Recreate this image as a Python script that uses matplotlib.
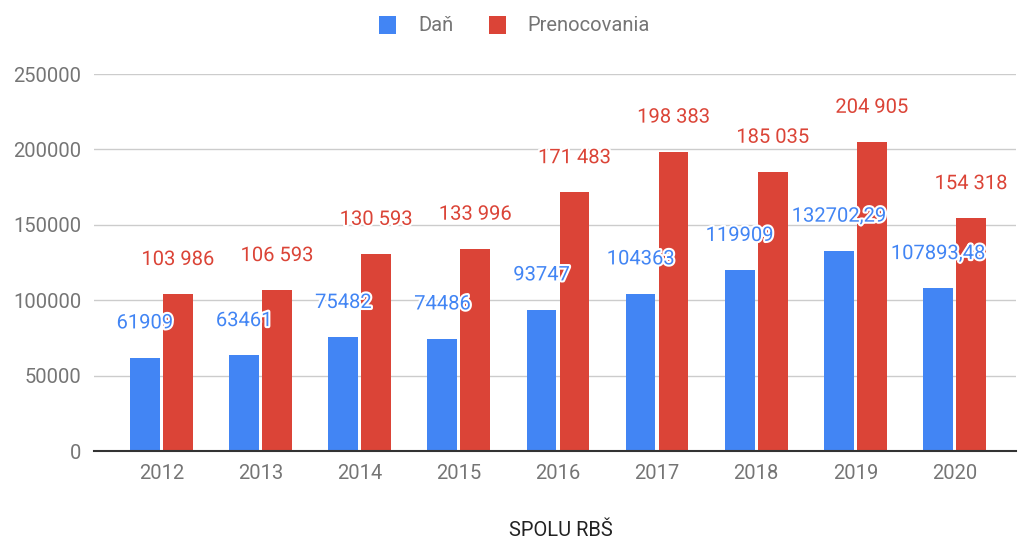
import matplotlib
matplotlib.use("Agg")
import matplotlib.pyplot as plt
import matplotlib.patheffects as pe
from matplotlib.patches import Patch
import numpy as np

plt.rcParams['font.family'] = ['Roboto', 'DejaVu Sans']

years = ['2012', '2013', '2014', '2015', '2016', '2017', '2018', '2019', '2020']
dan = [61909, 63461, 75482, 74486, 93747, 104363, 119909, 132702.29, 107893.48]
prenocovania = [103986, 106593, 130593, 133996, 171483, 198383, 185035, 204905, 154318]
yticks = [0, 50000, 100000, 150000, 200000, 250000]

BLUE = '#4285F4'
RED = '#DB4437'
GREY = '#757575'


def fmt_dan(v):
    # whole numbers without decimals, otherwise comma decimal
    if float(v).is_integer():
        return f"{int(v)}"
    return f"{v:.2f}".replace('.', ',')


def fmt_pren(v):
    return f"{int(v):,}".replace(',', ' ')


fig = plt.figure(figsize=(10.18, 5.43), dpi=100)
ax = fig.add_axes([0.0923, 0.1694, 0.9057, 0.6943])

x = np.arange(len(years))
w = 0.30
off = 0.166
ax.bar(x - off, dan, width=w, color=BLUE, zorder=3)
ax.bar(x + off, prenocovania, width=w, color=RED, zorder=3)

stroke = [pe.withStroke(linewidth=3, foreground='white')]
for xi, v in zip(x, dan):
    ax.annotate(fmt_dan(v), (xi - off, v), xytext=(0, 25), textcoords='offset points',
                ha='center', va='center', fontsize=14.5, color=BLUE,
                path_effects=stroke, zorder=5)
for xi, v in zip(x, prenocovania):
    ax.annotate(fmt_pren(v), (xi + off, v), xytext=(0, 25), textcoords='offset points',
                ha='center', va='center', fontsize=14.5, color=RED,
                path_effects=stroke, zorder=5)

ax.set_xlim(-0.68, 8.62)
ax.set_ylim(0, 250000)
ax.set_xticks(x)
ax.set_xticklabels(years)
ax.set_yticks(yticks)
ax.set_yticklabels([str(t) for t in yticks])
ax.tick_params(axis='both', length=0, labelsize=14.5, labelcolor=GREY)
ax.tick_params(axis='y', pad=9)
ax.tick_params(axis='x', pad=9)

ax.grid(axis='y', color='#cccccc', linewidth=1, zorder=0)
for s in ['top', 'right', 'left']:
    ax.spines[s].set_visible(False)
ax.spines['bottom'].set_color('#333333')
ax.spines['bottom'].set_linewidth(1.5)
ax.spines['bottom'].set_zorder(4)

ax.set_xlabel('SPOLU RBŠ', fontsize=14.5, color='#222222')
ax.xaxis.set_label_coords(0.506, -0.185)

handles = [Patch(facecolor=BLUE, label='Daň'), Patch(facecolor=RED, label='Prenocovania')]
fig.legend(handles=handles, loc='center', bbox_to_anchor=(0.5054, 0.953), ncol=2,
           frameon=False, fontsize=14.5, labelcolor=GREY, handlelength=0.85,
           handleheight=1.0, handletextpad=1.1, columnspacing=1.75)

fig.savefig('out.png', dpi=100)
